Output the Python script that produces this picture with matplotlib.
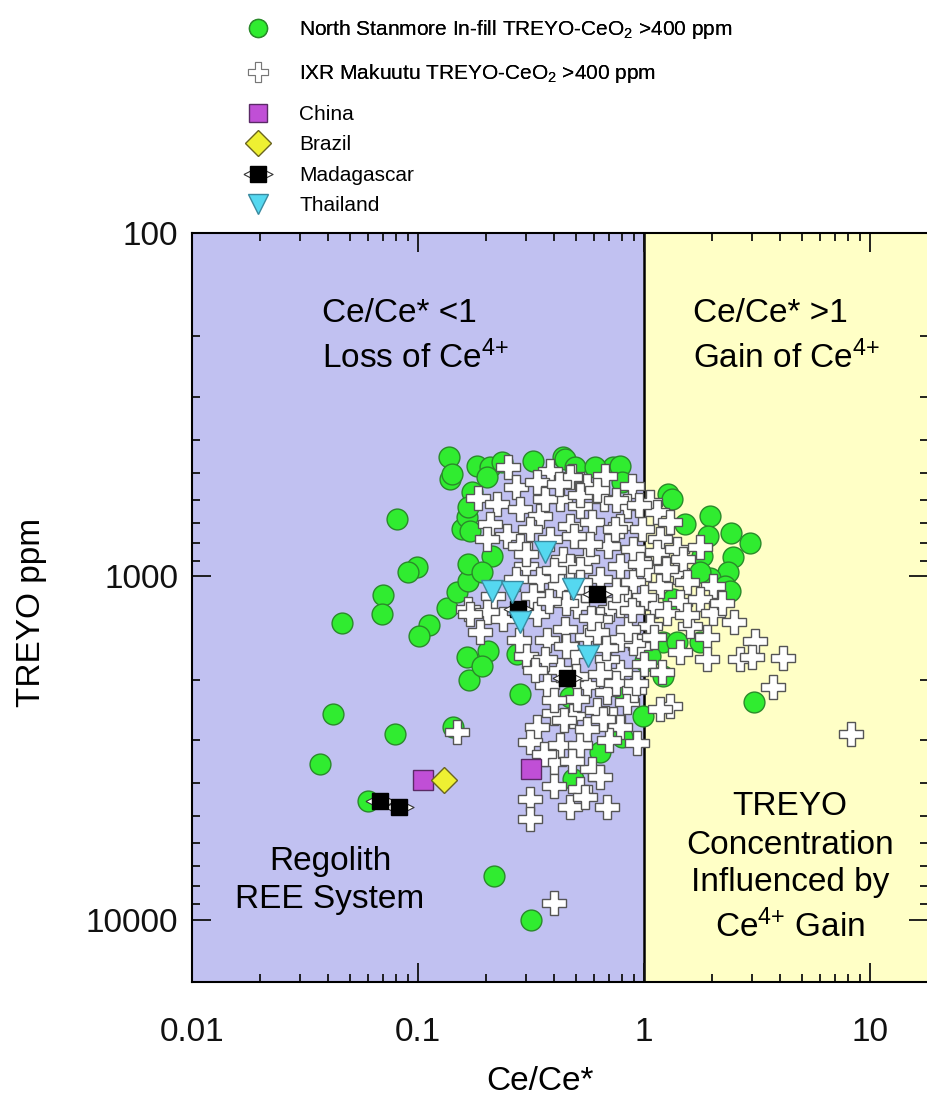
import matplotlib.pyplot as plt
from matplotlib.lines import Line2D
from matplotlib.path import Path
from matplotlib.ticker import FixedLocator, LogLocator, NullFormatter

plt.rcParams['font.family'] = ['Liberation Sans', 'DejaVu Sans']
plt.rcParams['mathtext.fontset'] = 'custom'
plt.rcParams['mathtext.rm'] = 'Liberation Sans'
plt.rcParams['mathtext.it'] = 'Liberation Sans'
plt.rcParams['mathtext.default'] = 'regular'

# North Stanmore In-fill (Ce/Ce*, TREYO ppm)
ns_x = [0.081, 0.099, 0.090, 0.070, 0.069, 0.046, 0.112, 0.101, 0.134, 0.149,
        0.167, 0.167, 0.157, 0.165, 0.165, 0.168, 0.042, 0.079, 0.143, 0.139,
        0.037, 0.060, 0.217, 0.316, 0.137, 0.141, 0.183, 0.208, 0.236, 0.323,
        0.436, 0.202, 0.174, 0.167, 0.170, 0.212, 0.192, 0.447, 0.495, 0.725,
        0.783, 0.80, 1.28, 1.52, 1.34, 1.33, 1.96, 1.91, 2.42, 2.94,
        2.48, 2.35, 1.81, 1.96, 2.28, 2.40, 1.77, 1.21, 1.39, 1.77,
        1.01, 1.21, 3.07, 0.99, 0.80, 0.80, 0.204, 0.192, 0.283, 0.275,
        0.638, 0.485, 1.06, 0.471, 0.607]
ns_y = [682, 940, 975, 1135, 1290, 1370, 1390, 1490, 1240, 1110,
        1035, 922, 729, 670, 1720, 2000, 2525, 2887, 2750, 521,
        3530, 4500, 7450, 10000, 450, 504, 478, 481, 466, 463,
        450, 514, 569, 630, 738, 875, 970, 456, 481, 481,
        478, 532, 577, 705, 1167, 597, 666, 765, 750, 800,
        880, 975, 875, 1010, 1065, 1105, 975, 1550, 1555, 1555,
        1770, 1955, 2330, 2560, 2930, 2135, 1650, 1830, 2210, 1690,
        3260, 3900, 1710, 2240, 481]

# IXR Makuutu
ixr_x = [0.25, 0.384, 0.48, 0.185, 0.224, 0.272, 0.337, 0.283, 0.347, 0.425,
         0.208, 0.248, 0.313, 0.384, 0.471, 0.283, 0.202, 0.438, 0.300, 0.272,
         0.347, 0.425, 0.323, 0.215, 0.167, 0.202, 0.471, 0.56, 0.672, 0.885,
         1.06, 1.14, 1.30, 0.665, 0.84, 0.521, 0.59, 0.783, 0.98, 1.18,
         0.49, 0.69, 0.895, 1.14, 1.40, 0.56, 0.783, 1.03, 1.40, 1.48,
         0.471, 0.638, 0.895, 1.18, 1.55, 0.84, 1.10, 0.505, 0.708, 1.44,
         1.77, 2.02, 1.77, 2.50, 2.02, 1.60, 1.26, 1.06, 1.89, 1.44,
         1.89, 3.10, 2.66, 3.0, 4.1, 3.7, 1.30, 8.2, 0.84, 0.73,
         0.96, 0.783, 0.188, 0.30, 0.372, 0.337, 0.40, 0.485, 0.313, 0.425,
         0.521, 0.40, 0.59, 0.40, 0.521, 0.638, 0.685, 0.471, 0.313, 0.313,
         0.56, 0.685, 0.783, 0.93, 0.56, 0.505, 0.685, 0.895, 0.56, 0.372,
         0.425, 0.149, 1.18, 1.10, 0.170, 0.238, 0.337, 0.521, 0.783, 0.40,
         0.365, 0.577, 0.745, 0.96, 0.638, 0.447, 0.783, 0.365, 0.495, 0.638,
         0.42, 0.52, 0.62, 0.75, 0.95, 0.30, 0.40, 0.55, 0.75, 1.0,
         1.25, 0.45, 0.62, 0.85, 1.0, 1.2, 0.75, 0.45, 0.50, 0.40,
         0.62, 0.70, 0.36, 0.48, 0.55, 0.28, 0.33, 1.55, 2.2, 0.9,
         0.58, 0.68, 0.38, 0.88, 0.52, 0.66, 0.44, 0.92]
ixr_y = [481, 494, 510, 590, 617, 550, 532, 638, 668, 597,
         705, 765, 729, 780, 715, 818, 780, 892, 935, 1020,
         1020, 1070, 1145, 1145, 1248, 1270, 514, 547, 510, 547,
         609, 650, 695, 597, 625, 625, 695, 715, 729, 780,
         765, 818, 834, 850, 834, 892, 935, 954, 975, 892,
         935, 1020, 1040, 1065, 1040, 1190, 1220, 1220, 1248, 1190,
         820, 1065, 1167, 1360, 1280, 1400, 1280, 1400, 1500, 1660,
         1746, 1540, 1746, 1720, 1735, 2100, 2380, 2890, 2330, 2610,
         1600, 1900, 1450, 1710, 2080, 2750, 2500, 2560, 3040, 3110,
         3110, 3480, 3650, 4070, 4170, 3840, 4700, 4700, 4460, 5100,
         2080, 2180, 2750, 3060, 2790, 2280, 1746, 1560, 1500, 1530,
         1870, 2850, 2440, 1500, 1290, 1335, 1290, 954, 1210, 8950,
         597, 807, 729, 922, 1334, 1428, 1527, 1746, 1688, 1931,
         540, 580, 560, 600, 620, 860, 960, 1100, 1100, 1150,
         950, 1200, 1450, 1420, 1800, 1900, 2050, 1600, 1950, 2300,
         2450, 3000, 3300, 3450, 4400, 1530, 1880, 1300, 1200, 2150,
         1320, 1620, 1180, 1250, 1040, 2600, 2620, 2050]

china_x = [0.105, 0.316]
china_y = [3930, 3650]
brazil_x = [0.13]
brazil_y = [3930]
mad_x = [0.278, 0.62, 0.455, 0.068, 0.082]
mad_y = [1248, 1130, 1980, 4510, 4700]
thai_x = [0.365, 0.212, 0.26, 0.485, 0.283, 0.565]
thai_y = [848, 1105, 1110, 1090, 1360, 1710]

fig = plt.figure(figsize=(9.27, 11.01), dpi=100)
ax = fig.add_axes([0.2071, 0.1081, 0.794, 0.6803])
ax.set_xscale('log')
ax.set_yscale('log')
ax.set_xlim(0.01, 18)
ax.set_ylim(15200, 100)

ax.axvspan(0.01, 1, color='#c1c1f1', zorder=0)
ax.axvspan(1, 18, color='#ffffc6', zorder=0)
ax.axvline(1, color='black', lw=1.8, zorder=1)

ax.plot(ns_x, ns_y, 'o', ms=15, mfc='#30ec30', mec='#2a8a2a', mew=1, zorder=2)
ax.plot(ixr_x, ixr_y, 'P', ms=17.5, mfc='white', mec='#555555', mew=1, zorder=3)
ax.plot(china_x, china_y, 's', ms=15, mfc='#c04fd6', mec='#5a2a66', mew=1, zorder=4)
ax.plot(brazil_x, brazil_y, 'D', ms=13.5, mfc='#eef032', mec='#6a6420', mew=1, zorder=4)
rhomb = Path([(-1, 0), (0, 0.5), (1, 0), (0, -0.5), (-1, 0)])
ax.plot(mad_x, mad_y, marker=rhomb, ls='none', ms=21, mfc='white', mec='#333333', mew=0.8, zorder=4)
ax.plot(mad_x, mad_y, 's', ms=11, mfc='black', mec='black', zorder=5)
ax.plot(thai_x, thai_y, 'v', ms=16, mfc='#55d8f0', mec='#3a8aa0', mew=1, zorder=5)

ax.xaxis.set_major_locator(FixedLocator([0.01, 0.1, 1, 10]))
ax.set_xticklabels(['0.01', '0.1', '1', '10'])
ax.yaxis.set_major_locator(FixedLocator([100, 1000, 10000]))
ax.set_yticklabels(['100', '1000', '10000'])
ax.xaxis.set_minor_locator(LogLocator(subs=range(2, 10)))
ax.yaxis.set_minor_locator(LogLocator(subs=range(2, 10)))
ax.xaxis.set_minor_formatter(NullFormatter())
ax.yaxis.set_minor_formatter(NullFormatter())
ax.tick_params(which='both', direction='in', top=True, right=True, width=1.3, colors='#111111')
ax.tick_params(which='major', length=14, labelsize=24)
ax.tick_params(which='minor', length=6)
ax.tick_params(axis='x', which='major', pad=25)
ax.tick_params(axis='y', which='major', pad=10)
for s in ax.spines.values():
    s.set_linewidth(1.5)

fig.text(0.5825, 0.004, 'Ce/Ce*', fontsize=24, ha='center', va='bottom')
fig.text(0.0345, 0.4441, 'TREYO ppm', fontsize=24, ha='center', va='center', rotation=90)

sup = '$^{4{+}}$'
fig.text(0.3474, 1 - 322 / 1101, 'Ce/Ce* <1', fontsize=24, va='baseline')
fig.text(0.3474, 1 - 368 / 1101, 'Loss of Ce' + sup, fontsize=24, va='baseline')
fig.text(0.7476, 1 - 322 / 1101, 'Ce/Ce* >1', fontsize=24, va='baseline')
fig.text(0.7476, 1 - 368 / 1101, 'Gain of Ce' + sup, fontsize=24, va='baseline')
fig.text(0.356, 1 - 870 / 1101, 'Regolith', fontsize=24, ha='center', va='baseline')
fig.text(0.356, 1 - 908 / 1101, 'REE System', fontsize=24, ha='center', va='baseline')
for txt, base in [('TREYO', 815), ('Concentration', 854), ('Influenced by', 891), ('Ce' + sup + ' Gain', 937)]:
    fig.text(0.8522, 1 - base / 1101, txt, fontsize=24, ha='center', va='baseline')

leg_kw = dict(loc='upper left', frameon=False, fontsize=15, handlelength=1.5,
              handletextpad=1.2, borderpad=0, borderaxespad=0)
h1 = [Line2D([], [], marker='o', ls='none', ms=13, mfc='#30ec30', mec='#2a8a2a'),
      Line2D([], [], marker='P', ls='none', ms=14, mfc='white', mec='#777777', mew=0.8)]
l1 = ['North Stanmore In-fill TREYO-CeO$_2$ >400 ppm',
      'IXR Makuutu TREYO-CeO$_2$ >400 ppm']
leg1 = fig.legend(h1, l1, bbox_to_anchor=(0.262, 1 - 18 / 1101), labelspacing=1.0, **leg_kw)
h2 = [Line2D([], [], marker='s', ls='none', ms=13, mfc='#c04fd6', mec='#5a2a66'),
      Line2D([], [], marker='D', ls='none', ms=13, mfc='#eef032', mec='#6a6420'),
      (Line2D([], [], marker=rhomb, ls='none', ms=21, mfc='white', mec='#333333', mew=0.8),
       Line2D([], [], marker='s', ls='none', ms=11, mfc='black', mec='black')),
      Line2D([], [], marker='v', ls='none', ms=15, mfc='#55d8f0', mec='#3a8aa0')]
l2 = ['China', 'Brazil', 'Madagascar', 'Thailand']
fig.legend(h2, l2, bbox_to_anchor=(0.262, 1 - 105 / 1101), labelspacing=0.55, **leg_kw)
fig.add_artist(leg1)

fig.savefig('out.png', dpi=100)
